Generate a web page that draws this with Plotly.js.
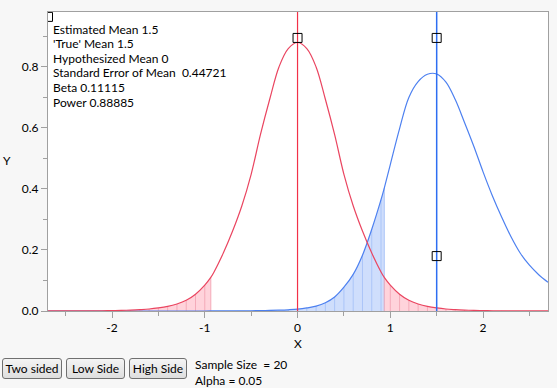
<!DOCTYPE html>
<html><head><meta charset="utf-8">
<script src="https://cdn.plot.ly/plotly-3.0.1.min.js"></script>
<style>
html,body{margin:0;padding:0;background:#f7f7f7;overflow:hidden;}
#chart{position:absolute;left:0;top:0;width:557px;height:388px;}
.btn{position:absolute;top:358px;height:21px;box-sizing:border-box;border:1px solid #707070;border-radius:3px;background:linear-gradient(#f4f4f4,#dedede);font:12px Lato,"Liberation Sans",sans-serif;color:#000;text-align:center;line-height:19px;}
.info{position:absolute;left:195px;font:12px Lato,"Liberation Sans",sans-serif;color:#000;white-space:pre;line-height:14px;}
</style></head><body>
<div id="chart"></div>
<div class="btn" style="left:2px;width:60px">Two sided</div>
<div class="btn" style="left:66px;width:59px">Low Side</div>
<div class="btn" style="left:129px;width:58px">High Side</div>
<div class="info" style="top:358px">Sample Size  = 20</div>
<div class="info" style="top:374px">Alpha = 0.05</div>
<script>
// ---- data ----
const xValues = [-2.7,-2.6,-2.5,-2.4,-2.3,-2.2,-2.1,-2.0,-1.9,-1.8,-1.7,-1.6,-1.5,-1.4,-1.3,-1.2,-1.1,-1.0,-0.935,
  -0.9,-0.8,-0.7,-0.6,-0.5,-0.4,-0.3,-0.2,-0.1,0,0.1,0.2,0.3,0.4,0.5,0.6,0.7,0.8,0.9,0.935,
  1.0,1.1,1.2,1.3,1.4,1.5,1.6,1.7,1.8,1.9,2.0,2.1,2.2,2.3,2.4,2.5,2.6,2.7];
const hypothesizedDensity = [0.0001,0.0001,0.0002,0.0003,0.0004,0.0006,0.0009,0.0014,0.002,0.003,0.0045,0.0065,0.010,0.015,0.023,0.035,0.055,0.085,0.110,
  0.128,0.190,0.262,0.345,0.448,0.578,0.694,0.800,0.860,0.880,0.860,0.800,0.694,0.578,0.448,0.345,0.262,0.190,0.128,0.110,
  0.085,0.055,0.035,0.023,0.015,0.010,0.0065,0.0045,0.003,0.002,0.0014,0.0009,0.0006,0.0004,0.0003,0.0002,0.0001,0.0001];
const trueDensity = [0,0,0,0,0,0,0,0,0,0,0,0,0,0,0,0,0,0,0.0001,
  0.0001,0.0002,0.0003,0.0005,0.0008,0.0012,0.0018,0.0027,0.004,0.006,0.010,0.016,0.027,0.046,0.078,0.120,0.183,0.268,0.365,0.403,
  0.480,0.598,0.700,0.752,0.776,0.777,0.750,0.693,0.618,0.540,0.456,0.378,0.308,0.244,0.190,0.150,0.119,0.094];
const hypothesizedMean = 0;
const trueMean = 1.5;
const criticalValue = 0.935;
const handleX = [-2.69, 0, 1.5, 1.5];
const handleY = [0.964, 0.895, 0.895, 0.18];
const xRange = [-2.69, 2.70];
const yRange = [0, 0.98];
const xTickValues = [-2,-1,0,1,2];
const xTickLabels = ['-2','-1','0','1','2'];
const yTickValues = [0,0.2,0.4,0.6,0.8];
const yTickLabels = ['0.0','0.2','0.4','0.6','0.8'];
const infoLines = ['Estimated Mean 1.5',"'True' Mean 1.5",'Hypothesized Mean 0','Standard Error of Mean  0.44721','Beta 0.11115','Power 0.88885'];

// ---- build traces ----
function pick(ys, test){
  const x=[], y=[];
  xValues.forEach((v,i)=>{ if(test(v)){ x.push(v); y.push(ys[i]); } });
  return {x,y};
}
function stripes(pts){
  const x=[], y=[];
  pts.x.forEach((v,i)=>{ x.push(v,v,null); y.push(0,pts.y[i],null); });
  return {x,y};
}
const blueFill = pick(trueDensity, v => Math.abs(v) <= criticalValue);
const redLeft = pick(hypothesizedDensity, v => v <= -criticalValue);
const redRight = pick(hypothesizedDensity, v => v >= criticalValue);
const blueFillColor = '#cfdefc', redFillColor = '#ffd3db';
const redLine = 'rgb(242,48,72)', blueLine = 'rgb(45,110,242)';
const traces = [];
traces.push({x:blueFill.x,y:blueFill.y,type:'scatter',mode:'lines',fill:'tozeroy',fillcolor:blueFillColor,line:{width:0,shape:'spline'},hoverinfo:'skip'});
[redLeft, redRight].forEach(p=>traces.push({x:p.x,y:p.y,type:'scatter',mode:'lines',fill:'tozeroy',fillcolor:redFillColor,line:{width:0,shape:'spline'},hoverinfo:'skip'}));
const bs = stripes(blueFill);
traces.push({x:bs.x,y:bs.y,type:'scatter',mode:'lines',line:{color:'#abc5f8',width:1},hoverinfo:'skip',connectgaps:false});
[redLeft, redRight].forEach(p=>{ const s=stripes(p); traces.push({x:s.x,y:s.y,type:'scatter',mode:'lines',line:{color:'#f4abb9',width:1},hoverinfo:'skip',connectgaps:false}); });
traces.push({x:xValues,y:trueDensity,type:'scatter',mode:'lines',line:{color:'#4d80f0',width:1.2,shape:'spline'},name:'True'});
traces.push({x:xValues,y:hypothesizedDensity,type:'scatter',mode:'lines',line:{color:'#ea4560',width:1.2,shape:'spline'},name:'Hypothesized'});
traces.push({x:[hypothesizedMean,hypothesizedMean],y:yRange,type:'scatter',mode:'lines',line:{color:redLine,width:1.2},hoverinfo:'skip'});
traces.push({x:[trueMean,trueMean],y:yRange,type:'scatter',mode:'lines',line:{color:blueLine,width:1.5},hoverinfo:'skip'});
traces.push({x:handleX,y:handleY,type:'scatter',mode:'markers',marker:{symbol:'square-open',size:9,color:'#000',line:{width:1,color:'#000'}},hoverinfo:'skip'});

const lineY = [0.943,0.894,0.845,0.796,0.746,0.697];
const annotations = infoLines.map((t,i)=>({text:t,xref:'paper',yref:'paper',x:0.006,y:lineY[i],xanchor:'left',yanchor:'middle',showarrow:false,font:{size:12,color:'#000'}}));
annotations.push({text:'X',xref:'paper',yref:'paper',x:0.5,y:-0.108,xanchor:'center',yanchor:'middle',showarrow:false,font:{size:12,color:'#000'}});
annotations.push({text:'Y',xref:'paper',yref:'paper',x:-0.082,y:0.502,xanchor:'center',yanchor:'middle',showarrow:false,font:{size:12,color:'#000'}});

const axisColor = '#a0a0a0';
const layout = {
  width:557, height:388,
  margin:{l:48,r:9,t:12,b:77,pad:0},
  paper_bgcolor:'rgba(0,0,0,0)', plot_bgcolor:'#ffffff',
  showlegend:false,
  font:{family:'Lato, "Liberation Sans", sans-serif', size:12, color:'#000'},
  xaxis:{range:xRange, tickmode:'array', tickvals:xTickValues, ticktext:xTickLabels,
    ticks:'outside', ticklen:6, tickcolor:axisColor, showline:true, linecolor:axisColor, mirror:true,
    showgrid:false, zeroline:false,
    minor:{dtick:0.5, tick0:0, ticklen:4, tickcolor:axisColor, ticks:'outside', showgrid:false}},
  yaxis:{range:yRange, tickmode:'array', tickvals:yTickValues, ticktext:yTickLabels,
    ticks:'outside', ticklen:6, tickcolor:axisColor, showline:true, linecolor:axisColor, mirror:true,
    showgrid:false, zeroline:false,
    minor:{dtick:0.1, tick0:0, ticklen:4, tickcolor:axisColor, ticks:'outside', showgrid:false}},
  annotations:annotations
};
Plotly.newPlot('chart', traces, layout, {displayModeBar:false, staticPlot:true});
</script>
</body></html>
